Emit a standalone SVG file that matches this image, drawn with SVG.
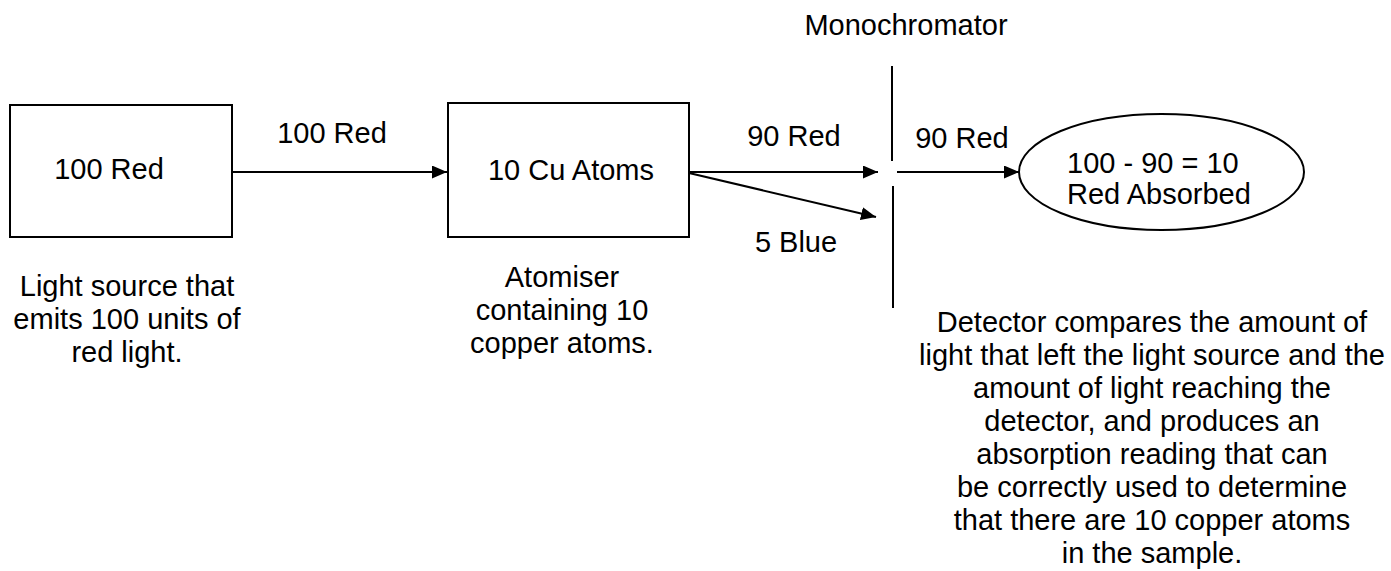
<svg xmlns="http://www.w3.org/2000/svg" width="1391" height="571" viewBox="0 0 1391 571">
<style>
text{font-family:"Liberation Sans",Arial,sans-serif;font-size:29px;fill:#000}
.c{text-anchor:middle}
.box{fill:#fff;stroke:#000;stroke-width:2}
.ln{stroke:#000;stroke-width:2;fill:none}
</style>
<defs>
<marker id="ah" markerUnits="userSpaceOnUse" markerWidth="16" markerHeight="14" refX="15" refY="6.5" orient="auto">
<path d="M0,0 L15,6.5 L0,13 z" fill="#000"/>
</marker>
</defs>
<rect width="1391" height="571" fill="#fff"/>
<g id="connectors">
<line class="ln" x1="232" y1="172" x2="447" y2="172" marker-end="url(#ah)"/>
<line class="ln" x1="689" y1="172" x2="878" y2="172" marker-end="url(#ah)"/>
<line class="ln" x1="689" y1="173" x2="876" y2="217" marker-end="url(#ah)"/>
<line class="ln" x1="897" y1="172" x2="1019" y2="172" marker-end="url(#ah)"/>
<text class="c" x="332" y="143">100 Red</text>
<text class="c" x="794" y="146">90 Red</text>
<text class="c" x="796" y="252">5 Blue</text>
<text class="c" x="962" y="148">90 Red</text>
</g>
<g id="light-source">
<rect class="box" x="10" y="105" width="222" height="132"/>
<text class="c" x="109" y="179">100 Red</text>
<text class="c" x="127" y="296">Light source that</text>
<text class="c" x="127" y="329">emits 100 units of</text>
<text class="c" x="127" y="362">red light.</text>
</g>
<g id="atomiser">
<rect class="box" x="448" y="103" width="241" height="134"/>
<text class="c" x="571" y="180">10 Cu Atoms</text>
<text class="c" x="562" y="287">Atomiser</text>
<text class="c" x="562" y="320">containing 10</text>
<text class="c" x="562" y="353">copper atoms.</text>
</g>
<g id="monochromator">
<text class="c" x="906" y="35">Monochromator</text>
<line class="ln" x1="892" y1="66" x2="892" y2="161"/>
<line class="ln" x1="893" y1="186" x2="893" y2="308"/>
</g>
<g id="detector">
<ellipse class="box" cx="1161.5" cy="172" rx="142.5" ry="58"/>
<text x="1067" y="173">100 - 90 = 10</text>
<text x="1067" y="204">Red Absorbed</text>
<text class="c" x="1152" y="332">Detector compares the amount of</text>
<text class="c" x="1152" y="365">light that left the light source and the</text>
<text class="c" x="1152" y="398">amount of light reaching the</text>
<text class="c" x="1152" y="431">detector, and produces an</text>
<text class="c" x="1152" y="464">absorption reading that can</text>
<text class="c" x="1152" y="497">be correctly used to determine</text>
<text class="c" x="1152" y="530">that there are 10 copper atoms</text>
<text class="c" x="1152" y="563">in the sample.</text>
</g>
</svg>
